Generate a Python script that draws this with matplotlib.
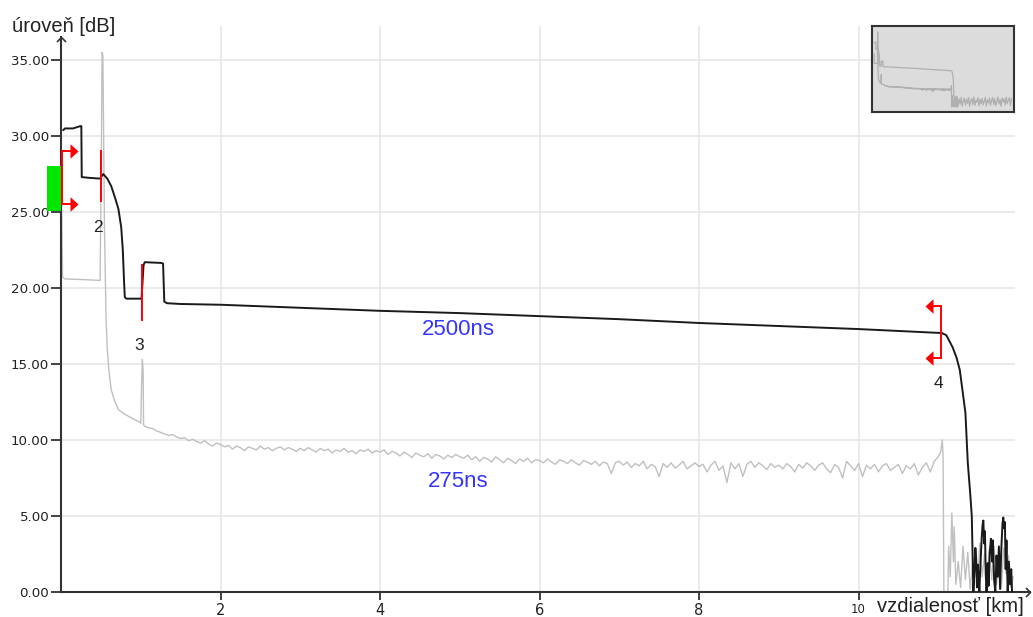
import numpy as np
import matplotlib
matplotlib.use("Agg")
import matplotlib.pyplot as plt
from matplotlib.path import Path
from matplotlib.patches import Rectangle

plt.rcParams['font.family'] = ['Liberation Sans', 'DejaVu Sans']

# ---------------- data ----------------
# 2500 ns trace (distance km, level dB)
black_km = [0.03, 0.05, 0.15, 0.24, 0.255, 0.26, 0.35, 0.49, 0.53, 0.58, 0.63, 0.68,
            0.72, 0.755, 0.775, 0.79, 0.80, 0.82, 1.01, 1.035, 1.05, 1.26, 1.28, 1.295,
            1.33, 1.5, 2.0, 3.0, 4.0, 5.0, 6.0, 7.0, 8.0, 9.0, 10.0, 11.0, 11.04, 11.1,
            11.18, 11.23, 11.27, 11.31, 11.34, 11.37, 11.40, 11.42, 11.44,
            11.455, 11.465, 11.475, 11.485, 11.495, 11.505, 11.515, 11.53, 11.545, 11.555,
            11.565, 11.575, 11.585, 11.595, 11.605, 11.62, 11.63, 11.645, 11.66, 11.675,
            11.685, 11.70, 11.715, 11.73, 11.745, 11.76, 11.775, 11.79, 11.805, 11.815,
            11.825, 11.835, 11.845, 11.855, 11.87, 11.885, 11.90, 11.915, 11.925]
black_db = [30.4, 30.5, 30.5, 30.65, 30.65, 27.3, 27.25, 27.2, 27.5, 27.2, 26.7, 25.9,
            25.2, 24.0, 22.5, 20.5, 19.4, 19.3, 19.3, 21.5, 21.7, 21.65, 21.6, 19.1,
            19.0, 18.95, 18.9, 18.7, 18.5, 18.35, 18.15, 17.95, 17.7, 17.5, 17.3, 17.05, 17.05, 16.9,
            16.1, 15.4, 14.6, 13.0, 11.8, 8.5, 6.5, 5.0, 0.0,
            1.5, 2.9, 2.2, 0.3, 1.8, 1.0, 0.0, 2.0, 3.6, 4.4,
            4.7, 3.2, 4.0, 1.2, 0.0, 1.9, 0.4, 2.6, 3.5, 2.0,
            3.4, 0.8, 0.0, 2.4, 1.0, 3.0, 0.2, 2.8, 4.5, 4.9,
            4.2, 4.6, 1.5, 3.4, 0.0, 2.0, 0.5, 1.5, 0.0]

# 275 ns trace: near-end part, noisy backscatter, far-end part
grey_head_km = [0.008, 0.02, 0.05, 0.30, 0.49, 0.505, 0.515, 0.525, 0.545, 0.565,
                0.58, 0.60, 0.63, 0.67, 0.72, 0.80, 0.90, 0.98, 1.0, 1.01, 1.02, 1.03, 1.035]
grey_head_db = [25.0, 20.7, 20.6, 20.55, 20.5, 28.0, 35.5, 35.3, 24.0, 18.0,
                16.0, 14.6, 13.3, 12.6, 12.0, 11.7, 11.4, 11.2, 11.1, 13.5, 15.3, 14.5, 11.0]
grey_noise_start_km = 1.05
grey_noise_step_km = 0.05
grey_noise_db = [10.9, 10.8, 10.75, 10.6, 10.5, 10.4,
                 10.3, 10.35, 10.2, 10.1, 10.15, 9.95, 10.05, 9.9, 9.8, 9.95, 9.75, 9.6, 9.8, 9.7,
                 9.55, 9.65, 9.4, 9.6, 9.5, 9.3, 9.55, 9.45, 9.35, 9.6, 9.4, 9.5, 9.3, 9.45, 9.55, 9.35, 9.5, 9.4, 9.25, 9.45,
                 9.3, 9.5, 9.35, 9.2, 9.45, 9.3, 9.4, 9.15, 9.35, 9.25, 9.45, 9.2, 9.3, 9.1, 9.35, 9.25, 9.4, 9.15, 9.3, 9.2,
                 9.35, 9.05, 9.25, 9.15, 8.95, 9.2, 9.05, 8.85, 9.15, 9.0, 8.9, 9.1, 8.8, 9.05, 8.95, 8.75, 9.0, 8.85, 9.05, 8.9,
                 8.8, 9.0, 8.7, 8.9, 8.6, 8.85, 8.75, 8.55, 8.9, 8.7, 8.5, 8.8, 8.65, 8.45, 8.75, 8.6, 8.8, 8.5, 8.7, 8.65,
                 8.5, 8.75, 8.55, 8.4, 8.7, 8.6, 8.45, 8.7, 8.5, 8.35, 8.65, 8.55, 8.4, 8.6, 8.3, 8.55, 8.45, 7.8, 8.5, 8.6,
                 8.35, 8.55, 8.2, 8.45, 8.3, 8.6, 8.1, 8.4, 8.25, 7.6, 8.45, 8.2, 8.5, 8.15, 8.35, 8.6, 8.1, 8.3, 8.5, 8.25,
                 8.4, 7.9, 8.35, 8.6, 8.0, 8.3, 7.2, 8.5, 8.1, 8.45, 7.6, 8.4, 8.6, 8.2, 8.5, 8.3, 8.05, 8.45, 8.2, 8.35,
                 8.1, 8.45, 8.25, 7.9, 8.4, 8.15, 8.5, 8.3, 8.0, 8.35, 8.5, 8.1, 7.85, 8.4, 8.2, 7.5, 8.6, 8.3, 8.0, 8.45,
                 7.6, 8.35, 8.1, 8.4, 7.9, 8.3, 8.45, 8.0, 8.2, 8.4, 7.8, 8.3, 8.1, 8.45, 7.7, 8.2, 8.5, 7.9, 8.6, 8.9]
grey_tail_km = [11.03, 11.05, 11.06, 11.07, 11.12, 11.13, 11.15, 11.17, 11.19, 11.20, 11.22,
                11.25, 11.28, 11.31, 11.34, 11.37, 11.40, 11.43, 11.46, 11.49, 11.52, 11.55,
                11.58, 11.61, 11.64, 11.67, 11.70, 11.73, 11.76, 11.79, 11.82, 11.85, 11.88,
                11.91, 11.94]
grey_tail_db = [9.2, 10.0, 9.0, 0.0, 0.0, 3.0, 1.0, 5.2, 2.0, 4.3, 0.5,
                2.0, 0.3, 3.0, 0.8, 2.6, 0.2, 1.8, 2.6, 0.4, 3.2, 1.0,
                2.5, 0.3, 2.8, 0.8, 3.0, 0.5, 2.2, 0.2, 2.9, 1.2, 2.4,
                0.3, 1.0]

# overview window: noise beyond the zoomed range
overview_tail_start_km = 12.0
overview_tail_step_km = 0.15
overview_tail_db = [0.5, 3.8, 1.2, 4.5, 0.3, 2.9, 4.1, 0.8, 3.5, 1.6, 4.4, 0.2, 2.7, 3.9, 1.0,
                    4.6, 0.6, 3.2, 2.1, 4.3, 0.4, 3.6, 1.4, 4.0, 0.9, 2.5, 4.5, 0.3, 3.3, 1.8,
                    4.2, 0.7, 3.0, 4.4, 1.1, 3.7, 0.5, 2.8, 4.6, 1.3, 3.4, 0.2, 4.1, 2.2, 3.8,
                    0.8, 4.5, 1.5, 3.1, 4.3, 0.6, 3.9]

# event markers
marker_km = [0.012, 0.50, 1.015, 11.04]
marker_top_db = [29.0, 29.0, 21.5, 18.8]
marker_bot_db = [25.5, 25.7, 17.9, 15.4]
marker_labels = ['', '2', '3', '4']
marker_arrows = ['right', None, None, 'left']
green_band_db = [25.05, 28.0]

trace_labels = ['2500ns', '275ns']
trace_label_pos = [(4.98, 17.25), (4.98, 7.3)]

y_ticks = [0, 5, 10, 15, 20, 25, 30, 35]
x_ticks = [2, 4, 6, 8, 10]

# ---------------- figure ----------------
W, H = 1033, 617
fig = plt.figure(figsize=(W / 100, H / 100), dpi=100)
ax_l, ax_r, ax_b, ax_t = 61, 1030, 592, 26
ax = fig.add_axes([ax_l / W, 1 - ax_b / H, (ax_r - ax_l) / W, (ax_b - ax_t) / H])
XMAX, YMAX = 12.15, 37.24
ax.set_xlim(0, XMAX)
ax.set_ylim(0, YMAX)
px_per_km = (ax_r - ax_l) / XMAX

grid_c = '#e6e6e6'
grid_end_km = 11.96
ax.hlines(y_ticks[1:], 0, grid_end_km, color=grid_c, lw=1.1, zorder=0)
ax.vlines(x_ticks, 0, YMAX, color=grid_c, lw=1.1, zorder=0)

grey_noise_km = grey_noise_start_km + grey_noise_step_km * np.arange(len(grey_noise_db))
grey_km = np.concatenate([grey_head_km, grey_noise_km, grey_tail_km])
grey_db = np.concatenate([grey_head_db, grey_noise_db, grey_tail_db])

ax.plot(grey_km, grey_db, color='#c0c0c0', lw=1.0, zorder=2)
ax.plot(black_km, black_db, color='#1a1a1a', lw=1.4, zorder=3)

# trace labels
for t, (xk, yd) in zip(trace_labels, trace_label_pos):
    ax.text(xk, yd, t, color='#3535ff', fontsize=16, ha='center', va='center', zorder=5)

# spines
for s in ['top', 'right']:
    ax.spines[s].set_visible(False)
for s in ['left', 'bottom']:
    ax.spines[s].set_color('#333333')
    ax.spines[s].set_linewidth(1.5)
y_axis_top = 36.5
ax.spines['left'].set_bounds(0, y_axis_top)
chev_up = Path([(-1, -1), (0, 0), (1, -1)], [Path.MOVETO, Path.LINETO, Path.LINETO])
chev_right = Path([(-1, -1), (0, 0), (-1, 1)], [Path.MOVETO, Path.LINETO, Path.LINETO])
ax.plot([0], [y_axis_top], marker=chev_up, ms=6.5, mfc='none', mec='#333333', mew=1.2,
        clip_on=False, zorder=6)
ax.plot([XMAX], [0], marker=chev_right, ms=6.5, mfc='none', mec='#333333', mew=1.2,
        clip_on=False, zorder=6)

ax.set_yticks(y_ticks)
ax.set_yticklabels(['%.2f' % v for v in y_ticks], fontfamily='DejaVu Sans', fontsize=9.6,
                   color='#222222')
ax.set_xticks(x_ticks)
ax.set_xticklabels([str(v) for v in x_ticks], fontfamily='DejaVu Sans', fontsize=10.5,
                   color='#222222')
ax.get_xticklabels()[-1].set_fontsize(8.5)
ax.tick_params(axis='y', length=7, width=1.3, pad=1.5, color='#333333')
ax.tick_params(axis='x', length=6, width=1.3, pad=2, color='#333333')

# green band at left
gw = 14 / px_per_km
ax.add_patch(Rectangle((-gw, green_band_db[0]), gw, green_band_db[1] - green_band_db[0],
                       facecolor='#00e600', edgecolor='none', clip_on=False, zorder=4))

# markers
red = '#ff0000'
tri_r = Path([(-0.55, -1), (0.55, 0), (-0.55, 1), (-0.55, -1)],
             [Path.MOVETO, Path.LINETO, Path.LINETO, Path.CLOSEPOLY])
tri_l = Path([(0.55, -1), (-0.55, 0), (0.55, 1), (0.55, -1)],
             [Path.MOVETO, Path.LINETO, Path.LINETO, Path.CLOSEPOLY])
stem_px = 8
for km, top, bot, lbl, arr in zip(marker_km, marker_top_db, marker_bot_db,
                                  marker_labels, marker_arrows):
    ax.plot([km, km], [bot, top], color=red, lw=1.4, zorder=5, clip_on=False)
    if arr is not None:
        sgn = 1 if arr == 'right' else -1
        stem = sgn * stem_px / px_per_km
        ctr = sgn * (stem_px + 4) / px_per_km
        for yy in (top, bot):
            ax.plot([km, km + stem], [yy, yy], color=red, lw=1.4, zorder=5, clip_on=False)
            ax.plot([km + ctr], [yy], marker=tri_r if sgn > 0 else tri_l, ms=10.5,
                    color=red, mec=red, mew=0, zorder=5, clip_on=False)
    if lbl:
        ax.annotate(lbl, (km, bot), xytext=(-3, -26), textcoords='offset pixels',
                    ha='center', va='center', fontsize=12.5, color='#222222', zorder=5)

# axis titles
fig.text(12 / W, 1 - 27 / H, 'úroveň [dB]', fontsize=14.5, ha='left', va='center',
         color='#222222')
fig.text(877 / W, 1 - 607 / H, 'vzdialenosť [km]', fontsize=14.5, ha='left', va='center',
         color='#222222')

# overview inset
ins = fig.add_axes([872 / W, 1 - 112 / H, 142 / W, 86 / H])
ins.set_facecolor('#dcdcdc')
for s in ins.spines.values():
    s.set_color('#333333')
    s.set_linewidth(1.5)
ins.set_xticks([])
ins.set_yticks([])
ins.set_xlim(-0.3, 20)
ins.set_ylim(-2.5, 38.3)
ov_km = overview_tail_start_km + overview_tail_step_km * np.arange(len(overview_tail_db))
ins.plot(black_km, black_db, color='#b0b0b0', lw=0.9)
ins.plot(grey_km, grey_db, color='#b0b0b0', lw=0.9)
ins.plot(ov_km, overview_tail_db, color='#b0b0b0', lw=0.9)

fig.savefig('out.png', dpi=100)
